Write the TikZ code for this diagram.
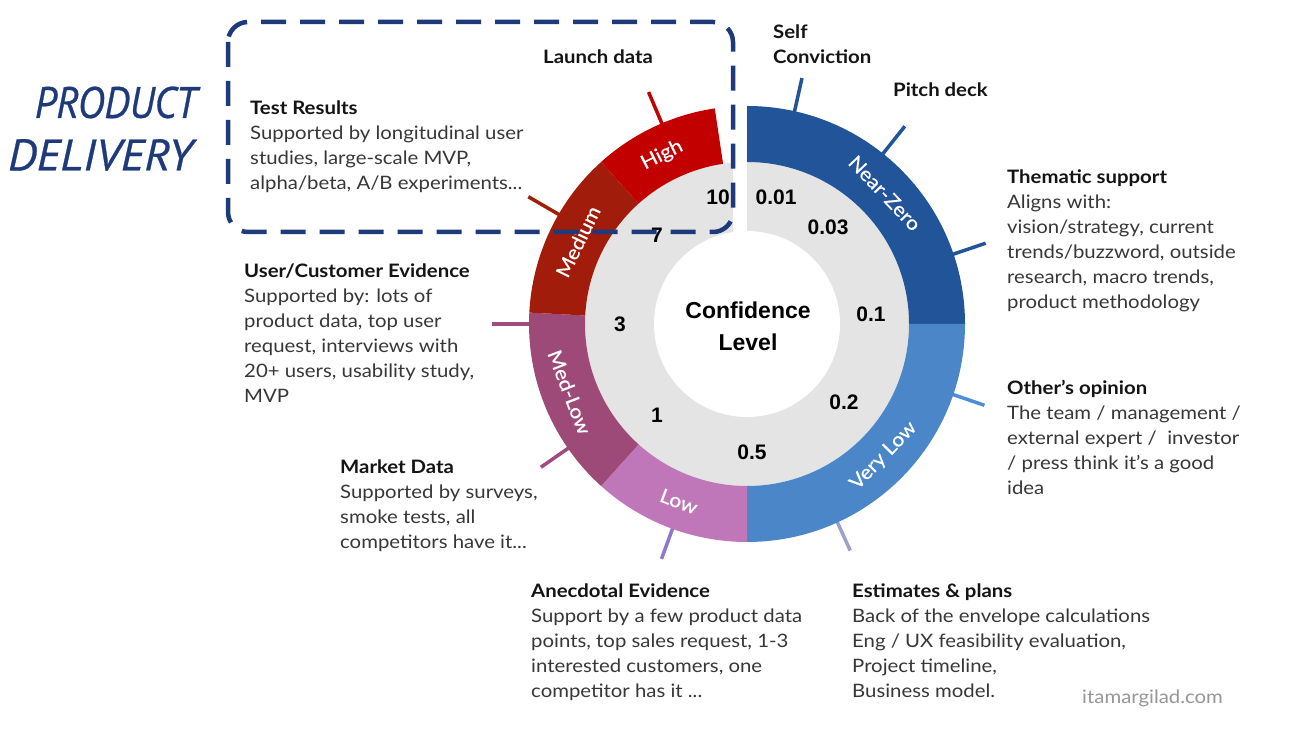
\documentclass[tikz,border=0pt]{standalone}
\usepackage{fontspec}
\setmainfont[FakeStretch=1.1]{Lato}
\newfontfamily\seglblfont[FakeStretch=1.08,FakeBold=0.5]{Lato}
\newfontfamily\numfont{Liberation Sans}
\newfontfamily\handfontA[FakeStretch=0.92,FakeBold=0.6]{PT Sans}
\newfontfamily\handfontB[FakeStretch=1.05,FakeBold=0.6]{PT Sans}
\definecolor{nzc}{RGB}{34,84,154}
\definecolor{vlc}{RGB}{74,134,200}
\definecolor{lowc}{RGB}{191,119,185}
\definecolor{mlc}{RGB}{158,74,120}
\definecolor{medc}{RGB}{161,28,11}
\definecolor{highc}{RGB}{194,0,0}
\definecolor{ringgray}{RGB}{228,228,228}
\definecolor{navy}{RGB}{30,58,122}
\definecolor{bodyc}{RGB}{55,55,55}
\definecolor{headc}{RGB}{20,20,20}
\definecolor{othc}{RGB}{80,140,220}
\definecolor{estc}{RGB}{158,160,204}
\definecolor{anec}{RGB}{142,120,200}
\definecolor{mktc}{RGB}{160,76,128}
\definecolor{sitec}{RGB}{150,150,150}
\newcommand\rOut{218}
\newcommand\rMid{162}
\newcommand\rIn{93}
\newcommand\hd[1]{\rule{0pt}{15pt}{\bfseries\color{headc}#1}}
\newcommand\ringseg[3]{\fill[#1] ([shift={(C)}]#2:\rOut) arc[start angle=#2,end angle=#3,radius=\rOut] -- ([shift={(C)}]#3:\rMid) arc[start angle=#3,end angle=#2,radius=\rMid] -- cycle;}
\newcommand\tickline[3]{\draw[tickst,#1] ([shift={(C)}]#2:200) -- ([shift={(C)}]#2:#3);}
\begin{document}
\begin{tikzpicture}[x=1pt,y=1pt,
  lbl/.style={anchor=north west,inner sep=0pt,align=left,text=bodyc,font=\fontsize{18.5}{25}\selectfont},
  seglbl/.style={text=white,font=\seglblfont\fontsize{19.5}{21}\selectfont,inner sep=0pt},
  numlbl/.style={font=\numfont\bfseries\fontsize{21}{24}\selectfont,inner sep=0pt,text=black},
  tickst/.style={line width=3.5pt},
  dashbox/.style={draw=navy,line width=4.5pt,dash pattern=on 25pt off 14pt,rounded corners=20pt},
  hand/.style={text=navy,inner sep=0pt,anchor=east}]
\useasboundingbox (0,0) rectangle (1292,738);
\fill[white] (0,0) rectangle (1292,738);
\coordinate (C) at (747,414);
% ticks
\tickline{nzc}{77.4}{252}
\tickline{nzc}{51.4}{253}
\tickline{nzc}{18.7}{252}
\tickline{othc}{-18.9}{251}
\tickline{estc}{-65.5}{249}
\tickline{anec}{-110}{250}
\tickline{mktc}{-145.2}{251}
\tickline{mktc}{180}{255}
\tickline{medc}{149.8}{253}
\tickline{highc}{113}{252}
% gray ring
\fill[ringgray] (C) circle[radius=\rMid];
\fill[white] (C) circle[radius=\rIn];
\fill[white] (733,500) rectangle (747,580);
% coloured segments
\ringseg{nzc}{0}{90}
\ringseg{vlc}{-90}{0}
\ringseg{lowc}{-132}{-90}
\ringseg{mlc}{177}{228}
\ringseg{medc}{132}{177}
\ringseg{highc}{98.5}{132}
% segment labels
\node[seglbl,rotate=-46.5] (nz) at ([shift={(C)}]43.5:190) {Near-Zero};
\node[seglbl,rotate=46] (vl) at ([shift={(C)}]-44:190) {Very Low};
\node[seglbl,rotate=-21] (lo) at ([shift={(C)}]-111:190) {Low};
\node[seglbl,rotate=-69] (ml) at ([shift={(C)}]-159:190) {Med-Low};
\node[seglbl,rotate=64] (me) at ([shift={(C)}]154:188) {Medium};
\node[seglbl,rotate=26.7] (hi) at ([shift={(C)}]116.7:189) {High};
% numbers
\node[numlbl] (n10) at (718,541) {10};
\node[numlbl] (n001) at (776,541) {0.01};
\node[numlbl] (n003) at (828,510.5) {0.03};
\node[numlbl] (n01) at (871,424) {0.1};
\node[numlbl] (n02) at (844,335.7) {0.2};
\node[numlbl] (n05) at (752,285.7) {0.5};
\node[numlbl] (n1) at (657,323) {1};
\node[numlbl] (n3) at (620,414) {3};
\node[numlbl] (n7) at (657,502.3) {7};
\node[font=\numfont\bfseries\fontsize{23}{32}\selectfont,align=center,inner sep=0pt] (conf) at (748,412) {Confidence\\Level};
% labels
\node[lbl] (launch) at (543,690) {\hd{Launch data}};
\node[lbl] (test) at (250,639) {\hd{Test Results}\\Supported by longitudinal user\\studies, large-scale MVP,\\alpha/beta, A/B experiments...};
\node[lbl] (self) at (773,715) {\hd{Self}\\{\bfseries\color{headc}Conviction}};
\node[lbl] (pitch) at (893,657) {\hd{Pitch deck}};
\node[lbl] (them) at (1007,570) {\hd{Thematic support}\\Aligns with:\\vision/strategy, current\\trends/buzzword, outside\\research, macro trends,\\product methodology};
\node[lbl] (oth) at (1007,359) {\hd{Other’s opinion}\\The team / management /\\external expert /\ \ investor\\/ press think it’s a good\\idea};
\node[lbl] (est) at (852,156) {\hd{Estimates \& plans}\\Back of the envelope calculations\\Eng / UX feasibility evaluation,\\Project timeline,\\Business model.};
\node[lbl] (anec) at (531,156) {\hd{Anecdotal Evidence}\\Support by a few product data\\points, top sales request, 1-3\\interested customers, one\\competitor has it ...};
\node[lbl] (mkt) at (340,280) {\hd{Market Data}\\Supported by surveys,\\smoke tests, all\\competitors have it...};
\node[lbl] (user) at (244,476) {\hd{User/Customer Evidence}\\Supported by: lots of\\product data, top user\\request, interviews with\\20+ users, usability study,\\MVP};
\node[anchor=base west,inner sep=0pt,text=sitec,font=\fontsize{18.5}{20}\selectfont] (site) at (1082,34) {itamargilad.com};
% product delivery
\node[hand,font=\handfontA\itshape\fontsize{44}{44}\selectfont] (prod) at (197,635.5) {PRODUCT};
\node[hand,font=\handfontB\itshape\fontsize{44}{44}\selectfont] (deliv) at (193,583) {DELIVERY};
% dashed box
\draw[dashbox] (228,716) rectangle (733,506);
\end{tikzpicture}
\end{document}
